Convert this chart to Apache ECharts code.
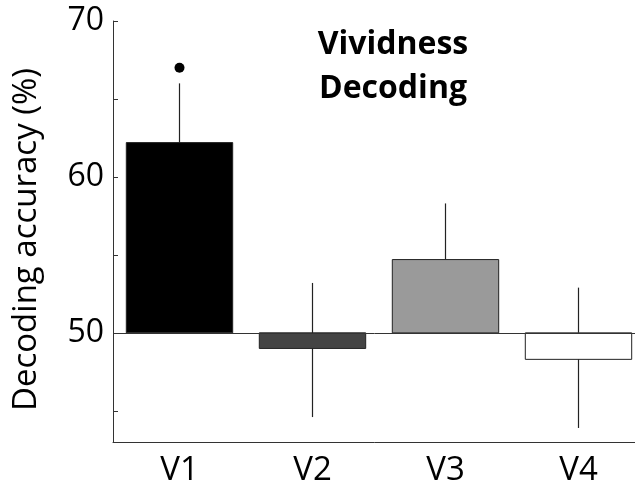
<!DOCTYPE html>
<html>
<head>
<meta charset="utf-8">
<script src="https://cdn.jsdelivr.net/npm/echarts@6/dist/echarts.min.js"></script>
<style>
html, body { margin: 0; padding: 0; background: #fff; }
#container { width: 635px; height: 486px; }
</style>
</head>
<body>
<div id="container"></div>
<script>
// data
var categories = ['V1', 'V2', 'V3', 'V4'];
var means = [62.2, 49.0, 54.7, 48.3];
var errLow = [62.2, 44.6, 54.7, 43.9];
var errHigh = [66.0, 53.2, 58.3, 52.9];
var barColors = ['#000000', '#444444', '#9a9a9a', '#ffffff'];
var sigPoints = [[0, 67.0]];
var baseline = 50;
var yTicks = [45, 50, 55, 60, 65, 70];
var yLabels = [50, 60, 70];

var font = 'Open Sans';

var myChart = echarts.init(document.getElementById('container'));

var option = {
	backgroundColor: '#fff',
	animation: false,
	title: {
		text: 'Vividness\nDecoding',
		left: 388,
		top: 18,
		textAlign: 'center',
		textStyle: {
			fontFamily: font,
			fontSize: 32,
			fontWeight: 'bold',
			lineHeight: 44,
			color: '#000'
		}
	},
	grid: {
		left: 113,
		top: 21,
		bottom: 44,
		width: 532,
		containLabel: false,
		outerBoundsMode: 'none'
	},
	xAxis: {
		type: 'category',
		data: categories,
		axisLine: { lineStyle: { color: '#333', width: 1 } },
		axisTick: { inside: true, alignWithLabel: true, length: 5, lineStyle: { color: '#333' } },
		axisLabel: { fontFamily: font, fontSize: 33, color: '#000', margin: 12 },
		splitLine: { show: false }
	},
	yAxis: {
		type: 'value',
		min: 43,
		max: 70,
		name: 'Decoding accuracy (%)',
		nameLocation: 'middle',
		nameGap: 70,
		nameTextStyle: { fontFamily: font, fontSize: 33, color: '#000', padding: [0, 16, 0, 0] },
		axisLine: { show: true, lineStyle: { color: '#333', width: 1 } },
		axisTick: { show: true, inside: true, length: 5, customValues: yTicks, lineStyle: { color: '#333' } },
		axisLabel: { fontFamily: font, fontSize: 32, color: '#000', margin: 9, customValues: yLabels },
		splitLine: { show: false }
	},
	series: [{
		// error bars (behind the bars)
		type: 'custom',
		z: 1,
		data: categories.map(function (c, i) { return [i, errLow[i], errHigh[i]]; }),
		renderItem: function (params, api) {
			var p0 = api.coord([api.value(0), api.value(1)]);
			var p1 = api.coord([api.value(0), api.value(2)]);
			return {
				type: 'line',
				shape: { x1: p0[0], y1: p0[1], x2: p1[0], y2: p1[1] },
				style: { stroke: '#222', lineWidth: 1.2 }
			};
		}
	}, {
		// bars drawn from the 50% chance level
		type: 'custom',
		z: 2,
		data: categories.map(function (c, i) { return [i, means[i]]; }),
		renderItem: function (params, api) {
			var i = api.value(0);
			var p0 = api.coord([i, baseline]);
			var p1 = api.coord([i, api.value(1)]);
			var w = api.size([1, 0])[0] * 0.8;
			return {
				type: 'rect',
				shape: { x: p0[0] - w / 2, y: Math.min(p0[1], p1[1]), width: w, height: Math.abs(p1[1] - p0[1]) },
				style: { fill: barColors[i], stroke: '#222', lineWidth: 1 }
			};
		},
		markLine: {
			silent: true,
			symbol: 'none',
			label: { show: false },
			lineStyle: { color: '#333', width: 1, type: 'solid' },
			data: [{ yAxis: baseline }],
			z: 3
		}
	}, {
		type: 'scatter',
		z: 4,
		symbolSize: 10,
		itemStyle: { color: '#000', opacity: 1 },
		data: sigPoints
	}]
};

myChart.setOption(option);
</script>
</body>
</html>
